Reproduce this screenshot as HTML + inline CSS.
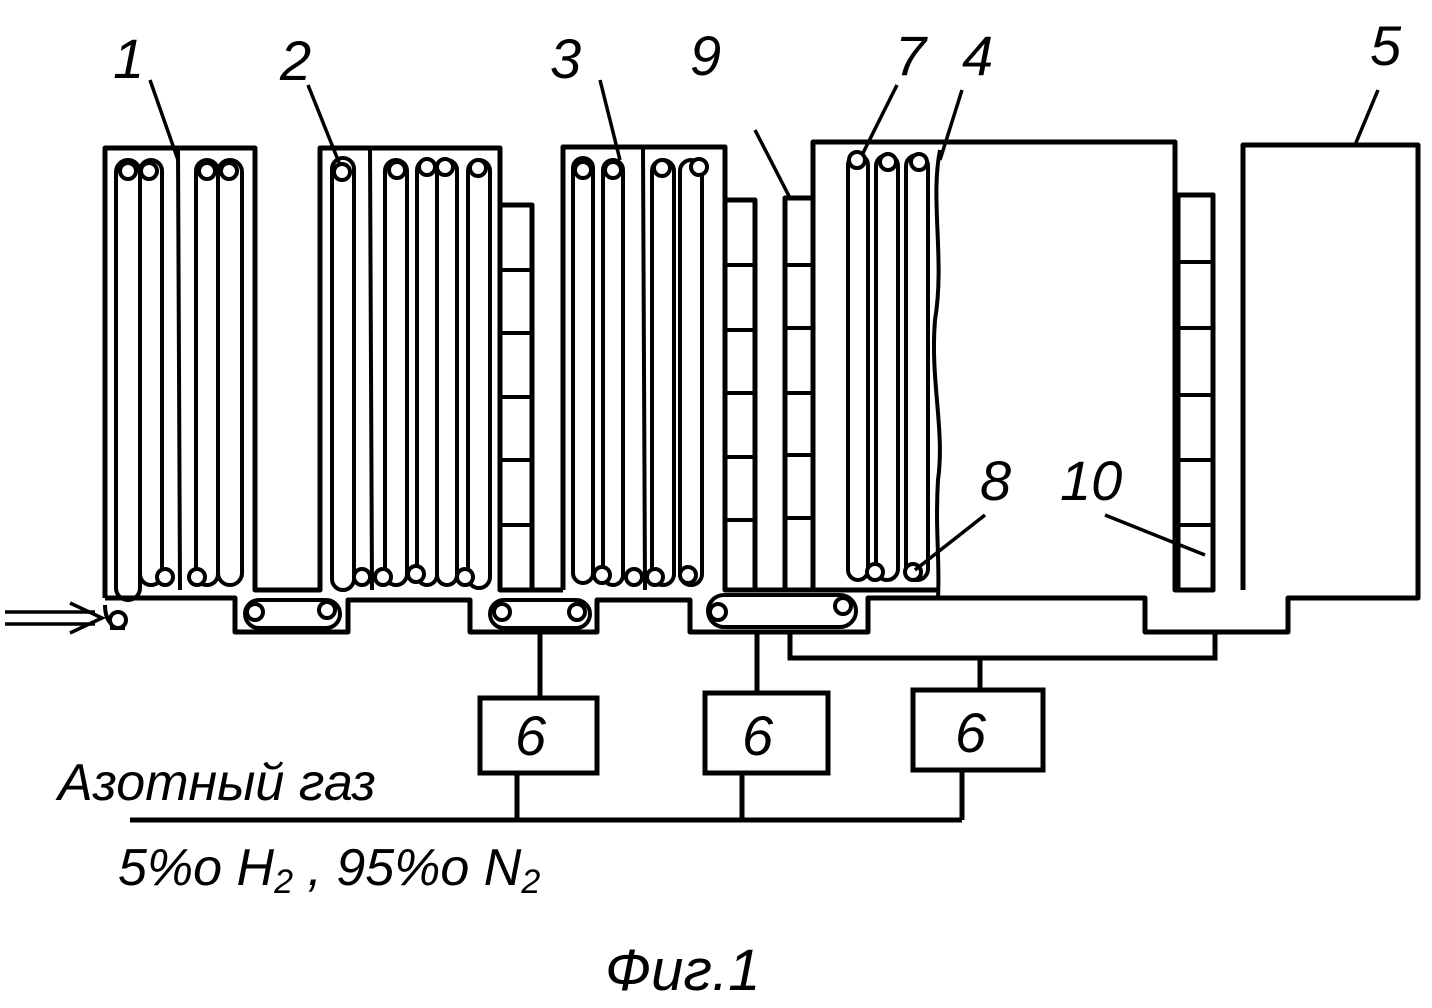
<!DOCTYPE html>
<html><head><meta charset="utf-8"><style>
html,body{margin:0;padding:0;background:#fff}
svg{display:block}
text{font-family:"Liberation Sans",sans-serif;font-style:italic;fill:#000}
</style></head><body>
<svg width="1432" height="1008" viewBox="0 0 1432 1008" xmlns="http://www.w3.org/2000/svg">
<g fill="none" stroke="#000" stroke-width="5" stroke-linejoin="round">
<polyline points="105,598 105,148 255,148 255,590 320,590 320,148 500,148 500,590"/>
<polyline points="563,590 563,147 725,147 725,590"/>
<polyline points="813,590 813,142 1175,142 1175,590 1213,590 1213,195 1192,195"/>
<polyline points="1243,590 1243,145 1418,145 1418,598 1288,598 1288,632 1145,632 1145,598 938,598"/>
<polyline points="105,598 235,598 235,632 348,632 348,600 470,600 470,632 597,632 597,600 690,600 690,632 868,632 868,598 940,598"/>
<rect x="500" y="205" width="32" height="385"/>
<rect x="725" y="200" width="30" height="390"/>
<rect x="785" y="198" width="28" height="392"/>
<rect x="1178" y="195" width="35" height="395"/>
<line x1="500" y1="590" x2="563" y2="590"/><line x1="725" y1="590" x2="813" y2="590"/>
<line x1="813" y1="590" x2="940" y2="590"/>
</g>
<g stroke="#000" stroke-width="4">
<line x1="500" y1="270" x2="532" y2="270"/><line x1="500" y1="333" x2="532" y2="333"/><line x1="500" y1="397" x2="532" y2="397"/><line x1="500" y1="460" x2="532" y2="460"/><line x1="500" y1="525" x2="532" y2="525"/>
<line x1="725" y1="265" x2="755" y2="265"/><line x1="725" y1="330" x2="755" y2="330"/><line x1="725" y1="393" x2="755" y2="393"/><line x1="725" y1="457" x2="755" y2="457"/><line x1="725" y1="520" x2="755" y2="520"/>
<line x1="785" y1="265" x2="813" y2="265"/><line x1="785" y1="328" x2="813" y2="328"/><line x1="785" y1="393" x2="813" y2="393"/><line x1="785" y1="455" x2="813" y2="455"/><line x1="785" y1="518" x2="813" y2="518"/>
<line x1="1178" y1="262" x2="1213" y2="262"/><line x1="1178" y1="328" x2="1213" y2="328"/><line x1="1178" y1="395" x2="1213" y2="395"/><line x1="1178" y1="460" x2="1213" y2="460"/><line x1="1178" y1="525" x2="1213" y2="525"/>
<line x1="178" y1="148" x2="180" y2="590"/><line x1="370" y1="148" x2="372" y2="590"/><line x1="643" y1="148" x2="645" y2="590"/>
</g>
<g fill="none" stroke="#000" stroke-width="4">
<rect x="116" y="160" width="24" height="440" rx="12"/>
<rect x="140" y="160" width="22" height="425" rx="11"/>
<rect x="196" y="160" width="22" height="425" rx="11"/>
<rect x="218" y="160" width="24" height="425" rx="12"/>
<rect x="332" y="158" width="22" height="432" rx="11"/>
<rect x="385" y="160" width="22" height="425" rx="11"/>
<rect x="417" y="160" width="20" height="425" rx="10"/>
<rect x="437" y="160" width="20" height="425" rx="10"/>
<rect x="468" y="160" width="22" height="428" rx="11"/>
<rect x="573" y="158" width="20" height="425" rx="10"/>
<rect x="603" y="160" width="20" height="425" rx="10"/>
<rect x="652" y="160" width="22" height="425" rx="11"/>
<rect x="680" y="160" width="22" height="425" rx="11"/>
<rect x="848" y="155" width="20" height="425" rx="10"/>
<rect x="876" y="155" width="22" height="425" rx="11"/>
<rect x="906" y="155" width="22" height="425" rx="11"/>
<path d="M940,150 C930,200 945,260 935,320 C930,380 945,430 938,480 C935,530 940,560 938,598"/>
<path d="M105,605 Q105,628 125,628 L110,628"/>
<rect x="245" y="600" width="95" height="28" rx="14"/>
<rect x="490" y="600" width="100" height="28" rx="14"/>
<rect x="708" y="595" width="148" height="32" rx="16"/>
</g>
<g fill="#fff" stroke="#000" stroke-width="4">
<circle cx="128" cy="171" r="8"/><circle cx="149" cy="171" r="8"/><circle cx="207" cy="171" r="8"/><circle cx="229" cy="171" r="8"/>
<circle cx="165" cy="577" r="8"/><circle cx="197" cy="577" r="8"/>
<circle cx="342" cy="172" r="8"/><circle cx="397" cy="170" r="8"/><circle cx="427" cy="167" r="8"/><circle cx="445" cy="167" r="8"/><circle cx="478" cy="168" r="8"/>
<circle cx="362" cy="577" r="8"/><circle cx="383" cy="577" r="8"/><circle cx="416" cy="574" r="8"/><circle cx="465" cy="577" r="8"/>
<circle cx="583" cy="170" r="8"/><circle cx="613" cy="170" r="8"/><circle cx="662" cy="168" r="8"/><circle cx="699" cy="167" r="8"/>
<circle cx="602" cy="575" r="8"/><circle cx="634" cy="577" r="8"/><circle cx="655" cy="577" r="8"/><circle cx="688" cy="575" r="8"/>
<circle cx="857" cy="160" r="8"/><circle cx="888" cy="162" r="8"/><circle cx="919" cy="162" r="8"/>
<circle cx="875" cy="572" r="8"/><circle cx="913" cy="572" r="8"/>
<circle cx="118" cy="620" r="8"/><circle cx="255" cy="612" r="8"/><circle cx="327" cy="610" r="8"/><circle cx="502" cy="612" r="8"/><circle cx="577" cy="612" r="8"/><circle cx="718" cy="612" r="8"/><circle cx="843" cy="606" r="8"/>
</g>
<g fill="none" stroke="#000" stroke-width="5">
<line x1="540" y1="632" x2="540" y2="698"/>
<rect x="480" y="698" width="117" height="75"/>
<line x1="757" y1="632" x2="757" y2="693"/>
<rect x="705" y="693" width="123" height="80"/>
<polyline points="790,632 790,658 1215,658 1215,632"/>
<line x1="980" y1="658" x2="980" y2="690"/>
<rect x="913" y="690" width="130" height="80"/>
<line x1="130" y1="820" x2="962" y2="820"/>
<line x1="517" y1="773" x2="517" y2="820"/>
<line x1="742" y1="773" x2="742" y2="820"/>
<line x1="962" y1="770" x2="962" y2="820"/>
</g>
<g stroke="#000" stroke-width="3.5" fill="none">
<line x1="150" y1="80" x2="178" y2="160"/>
<line x1="308" y1="85" x2="340" y2="165"/>
<line x1="600" y1="80" x2="620" y2="160"/>
<line x1="755" y1="130" x2="790" y2="198"/>
<line x1="897" y1="85" x2="862" y2="155"/>
<line x1="962" y1="90" x2="940" y2="160"/>
<line x1="1378" y1="90" x2="1355" y2="145"/>
<line x1="985" y1="515" x2="915" y2="570"/>
<line x1="1105" y1="515" x2="1205" y2="555"/>
<line x1="5" y1="612" x2="95" y2="612"/><line x1="5" y1="624" x2="95" y2="624"/>
<polyline points="70,603 102,618 70,633"/>
</g>
<g font-size="56">
<text x="113" y="78">1</text>
<text x="280" y="80">2</text>
<text x="550" y="78">3</text>
<text x="690" y="75">9</text>
<text x="895" y="75">7</text>
<text x="962" y="75">4</text>
<text x="1370" y="65">5</text>
<text x="980" y="500">8</text>
<text x="1060" y="500">10</text>
<text x="515" y="755">6</text>
<text x="742" y="755">6</text>
<text x="955" y="752">6</text>
<text x="58" y="800" font-size="52">Азотный газ</text>
<text x="118" y="885" font-size="52">5%о H<tspan font-size="34" dy="8">2</tspan><tspan dy="-8"> , 95%о N</tspan><tspan font-size="34" dy="8">2</tspan></text>
<text x="605" y="990" font-size="58">Фиг.1</text>
</g>
</svg>
</body></html>
